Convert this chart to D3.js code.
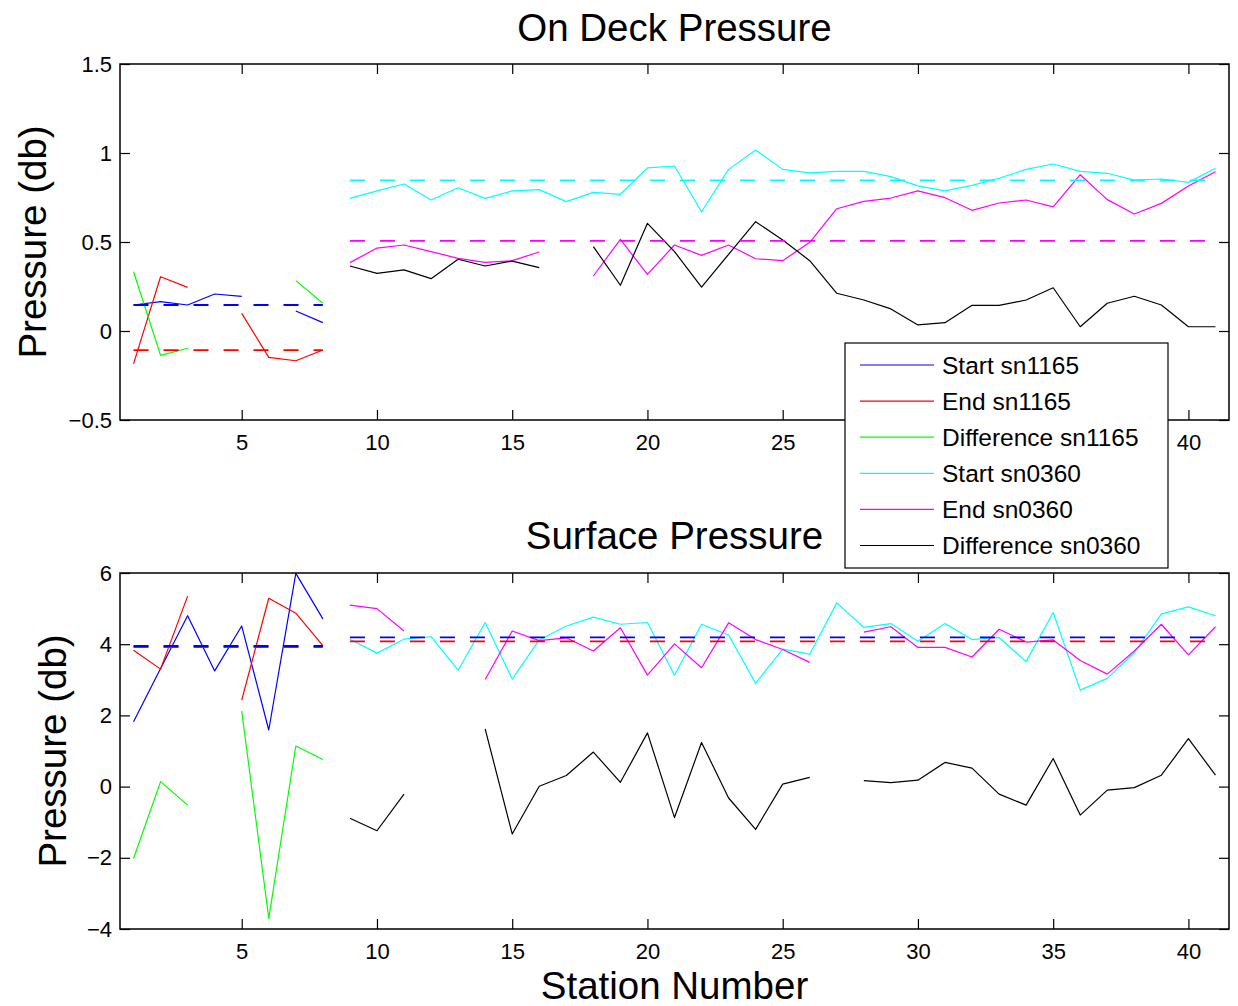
<!DOCTYPE html>
<html>
<head>
<meta charset="utf-8">
<script src="https://cdn.jsdelivr.net/npm/d3@7"></script>
<style>
  html, body { margin: 0; padding: 0; background: #fff; }
  svg { display: block; font-family: "Liberation Sans", Arial, Helvetica, sans-serif; }
</style>
</head>
<body>
<svg id="chart" width="1238" height="1006"></svg>
<script>
// ---------------- data ----------------
const stations = d3.range(1, 42);           // station numbers 1..41
const xTicks = [5, 10, 15, 20, 25, 30, 35, 40];
const topYTicks = [-0.5, 0, 0.5, 1, 1.5];
const botYTicks = [-4, -2, 0, 2, 4, 6];

const seriesNames = ["Start sn1165", "End sn1165", "Difference sn1165",
                     "Start sn0360", "End sn0360", "Difference sn0360"];
const seriesColors = ["#0000ff", "#ff0000", "#00ff00", "#00ffff", "#ff00ff", "#000000"];

const N = null;
// On Deck Pressure (stations 1..41)
const deckStart1165 = [0.146, 0.165, 0.146, 0.208, 0.195, N, 0.112, 0.047,
  N,N,N,N,N,N,N,N,N,N,N,N,N,N,N,N,N,N,N,N,N,N,N,N,N,N,N,N,N,N,N,N,N];
const deckEnd1165 = [-0.185, 0.305, 0.245, N, 0.099, -0.148, -0.167, -0.107,
  N,N,N,N,N,N,N,N,N,N,N,N,N,N,N,N,N,N,N,N,N,N,N,N,N,N,N,N,N,N,N,N,N];
const deckDiff1165 = [0.333, -0.137, -0.097, N, 0.096, N, 0.283, 0.156,
  N,N,N,N,N,N,N,N,N,N,N,N,N,N,N,N,N,N,N,N,N,N,N,N,N,N,N,N,N,N,N,N,N];
const deckStart0360 = [N,N,N,N,N,N,N,N,
  0.745, 0.787, 0.826, 0.736, 0.805, 0.745, 0.787, 0.794, 0.727, 0.779, 0.768,
  0.916, 0.927, 0.670, 0.908, 1.017, 0.908, 0.888, 0.897, 0.897, 0.867,
  0.815, 0.787, 0.818, 0.858, 0.908, 0.938, 0.897, 0.886, 0.848, 0.854, 0.835, 0.914];
const deckEnd0360 = [N,N,N,N,N,N,N,N,
  0.384, 0.466, 0.483, 0.446, 0.408, 0.386, 0.395, 0.444, N, 0.309, 0.515,
  0.318, 0.483, 0.425, 0.483, 0.406, 0.395, 0.498, 0.687, 0.728, 0.747,
  0.787, 0.749, 0.678, 0.719, 0.736, 0.697, 0.878, 0.738, 0.657, 0.717, 0.815, 0.895];
const deckDiff0360 = [N,N,N,N,N,N,N,N,
  0.365, 0.324, 0.343, 0.294, 0.403, 0.365, 0.393, 0.356, N, 0.474, 0.257,
  0.605, 0.446, 0.247, 0.431, 0.614, 0.511, 0.395, 0.212, 0.174, 0.124,
  0.034, 0.047, 0.144, 0.144, 0.174, 0.243, 0.024, 0.156, 0.195, 0.146, 0.024, 0.024];

// Surface Pressure (stations 1..41)
const surfStart1165 = [1.82, 3.32, 4.80, 3.25, 4.51, 1.59, 5.99, 4.71,
  N,N,N,N,N,N,N,N,N,N,N,N,N,N,N,N,N,N,N,N,N,N,N,N,N,N,N,N,N,N,N,N,N];
const surfEnd1165 = [3.83, 3.30, 5.35, N, 2.43, 5.29, 4.87, 3.96,
  N,N,N,N,N,N,N,N,N,N,N,N,N,N,N,N,N,N,N,N,N,N,N,N,N,N,N,N,N,N,N,N,N];
const surfDiff1165 = [-2.02, 0.14, -0.52, N, 2.12, -3.70, 1.14, 0.76,
  N,N,N,N,N,N,N,N,N,N,N,N,N,N,N,N,N,N,N,N,N,N,N,N,N,N,N,N,N,N,N,N,N];
const surfStart0360 = [N,N,N,N,N,N,N,N,
  4.14, 3.75, 4.14, 4.21, 3.27, 4.61, 3.02, 4.12, 4.51, 4.76, 4.56,
  4.61, 3.13, 4.56, 4.26, 2.90, 3.86, 3.72, 5.16, 4.47, 4.58,
  4.08, 4.58, 4.13, 4.19, 3.51, 4.89, 2.71, 3.04, 3.76, 4.85, 5.05, 4.80];
const surfEnd0360 = [N,N,N,N,N,N,N,N,
  5.10, 5.00, 4.37, N, N, 3.01, 4.37, 4.10, 4.18, 3.81, 4.46,
  3.13, 4.01, 3.34, 4.60, 4.13, 3.85, 3.49, N, 4.34, 4.49,
  3.91, 3.91, 3.64, 4.42, 4.06, 4.12, 3.54, 3.16, 3.81, 4.56, 3.70, 4.49];
const surfDiff0360 = [N,N,N,N,N,N,N,N,
  -0.89, -1.24, -0.21, N, N, 1.62, -1.33, 0.01, 0.31, 0.97, 0.12,
  1.51, -0.87, 1.24, -0.32, -1.20, 0.07, 0.26, N, 0.17, 0.11,
  0.18, 0.68, 0.52, -0.21, -0.52, 0.79, -0.80, -0.10, -0.03, 0.32, 1.35, 0.32];

// mean (dashed) reference lines: [value, firstStation, lastStation, colorIndex]
const deckMeans = [[0.146, 1, 8, 0], [-0.107, 1, 8, 1], [0.846, 9, 41, 3], [0.506, 9, 41, 4]];
const surfMeans = [[3.92, 1, 8, 1], [3.95, 1, 8, 0], [4.08, 9, 41, 1], [4.19, 9, 41, 0]];

// ---------------- drawing ----------------
const svg = d3.select("#chart");
const FONT_TICK = 22, FONT_LABEL = 38.5;
const legendBox = { x: 845, y: 343, w: 323, h: 225 };

const x = d3.scaleLinear().domain([0.5, 41.5]).range([120, 1229]);

function panel(top, bottom, yDomain, yTicks, series, means, title, titleY, ylabelX) {
  const y = d3.scaleLinear().domain(yDomain).range([bottom, top]);
  const g = svg.append("g");
  const fmt = d3.format("~g");

  // data lines
  const line = d3.line()
    .defined(d => d.v !== null)
    .x(d => x(d.s)).y(d => y(d.v));
  series.forEach((vals, i) => {
    const pts = stations.map((s, k) => ({ s: s, v: vals[k] }));
    g.append("path").attr("d", line(pts))
      .attr("fill", "none").attr("stroke", seriesColors[i])
      .attr("stroke-width", 1.2).attr("stroke-linejoin", "round");
  });

  // dashed means
  means.forEach(m => {
    g.append("line")
      .attr("x1", x(m[1])).attr("x2", x(m[2]))
      .attr("y1", y(m[0])).attr("y2", y(m[0]))
      .attr("stroke", seriesColors[m[3]]).attr("stroke-width", 1.8)
      .attr("stroke-dasharray", "15,15");
  });

  // axes (ticks inward)
  const styleAxis = sel => {
    sel.select(".domain").remove();
    sel.selectAll(".tick line").attr("stroke", "#000").attr("stroke-width", 1.2);
    sel.selectAll("text").attr("fill", "#000").style("font-size", FONT_TICK + "px")
      .style("font-family", "'Liberation Sans', Arial, sans-serif");
  };
  // x tick labels hidden behind the legend box are not drawn (as in the reference)
  const labelY = bottom + 25;
  const hidden = v => labelY > legendBox.y && labelY < legendBox.y + legendBox.h &&
                      x(v) > legendBox.x && x(v) < legendBox.x + legendBox.w;
  g.append("g").attr("transform", `translate(0,${bottom})`)
    .call(d3.axisBottom(x).tickValues(xTicks).tickSize(-10).tickPadding(14)
      .tickFormat(v => hidden(v) ? "" : fmt(v)))
    .call(styleAxis);
  g.append("g").attr("transform", `translate(0,${top})`)
    .call(d3.axisTop(x).tickValues(xTicks).tickSize(-10).tickFormat(""))
    .call(styleAxis);
  g.append("g").attr("transform", `translate(120,0)`)
    .call(d3.axisLeft(y).tickValues(yTicks).tickSize(-10).tickPadding(8).tickFormat(fmt))
    .call(styleAxis);
  g.append("g").attr("transform", `translate(1229,0)`)
    .call(d3.axisRight(y).tickValues(yTicks).tickSize(-10).tickFormat(""))
    .call(styleAxis);

  g.append("rect").attr("x", 120).attr("y", top)
    .attr("width", 1229 - 120).attr("height", bottom - top)
    .attr("fill", "none").attr("stroke", "#000").attr("stroke-width", 1.5);

  // title
  g.append("text").attr("x", (120 + 1229) / 2).attr("y", titleY)
    .attr("text-anchor", "middle").style("font-size", FONT_LABEL + "px")
    .attr("fill", "#000").text(title);

  // y label
  g.append("text")
    .attr("transform", `translate(${ylabelX},${(top + bottom) / 2}) rotate(-90)`)
    .attr("text-anchor", "middle").style("font-size", FONT_LABEL + "px")
    .attr("fill", "#000").text("Pressure (db)");
}

panel(64, 420, [-0.5, 1.5], topYTicks,
  [deckStart1165, deckEnd1165, deckDiff1165, deckStart0360, deckEnd0360, deckDiff0360],
  deckMeans, "On Deck Pressure", 41, 46);

panel(573, 929, [-4, 6], botYTicks,
  [surfStart1165, surfEnd1165, surfDiff1165, surfStart0360, surfEnd0360, surfDiff0360],
  surfMeans, "Surface Pressure", 549, 66);

// x label
svg.append("text").attr("x", (120 + 1229) / 2).attr("y", 999)
  .attr("text-anchor", "middle").style("font-size", FONT_LABEL + "px")
  .attr("fill", "#000").text("Station Number");

// legend
const leg = svg.append("g");
leg.append("rect").attr("x", legendBox.x).attr("y", legendBox.y)
  .attr("width", legendBox.w).attr("height", legendBox.h)
  .attr("fill", "#fff").attr("stroke", "#000").attr("stroke-width", 1.2);
seriesNames.forEach((name, i) => {
  const yy = 365 + i * 36.1;
  leg.append("line").attr("x1", 860).attr("x2", 934).attr("y1", yy).attr("y2", yy)
    .attr("stroke", seriesColors[i]).attr("stroke-width", 1.2);
  leg.append("text").attr("x", 942).attr("y", yy).attr("dy", "0.36em")
    .style("font-size", "24.5px").attr("fill", "#000").text(name);
});
</script>
</body>
</html>
